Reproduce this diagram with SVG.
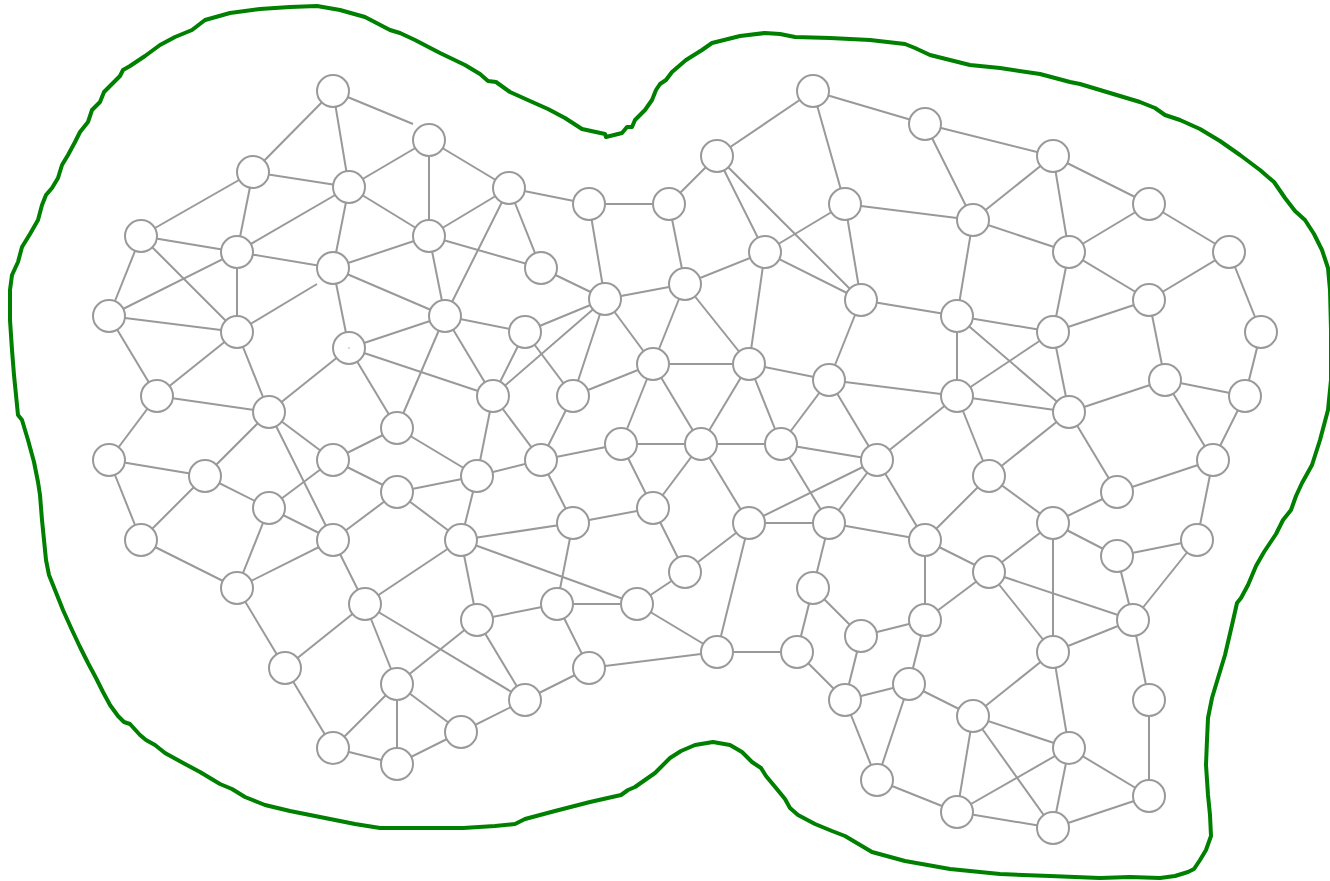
<svg xmlns="http://www.w3.org/2000/svg" width="1330" height="881" viewBox="0 0 1330 881">
<style>
.e line{stroke:#999;stroke-width:2;fill:none}
circle.n{fill:#fff;stroke:#999;stroke-width:2}
.b{fill:none;stroke:#008000;stroke-width:4;stroke-linejoin:round;stroke-linecap:round}
</style>
<rect width="1330" height="881" fill="#fff"/>
<path class="b" d="M10,290 L12,275 L18,262 L22,247 L30,234 L38,220 L42,205 L46,195 L52,188 L58,178 L62,165 L68,155 L75,142 L80,132 L88,122 L92,110 L100,102 L104,92 L112,84 L120,76 L123,70 L130,66 L145,56 L160,45 L175,37 L192,30 L205,20 L230,13 L260,9 L290,7 L317,6 L340,10 L365,17 L390,30 L400,33 L415,40 L440,53 L465,65 L480,74 L488,81 L496,82 L510,92 L530,101 L548,109 L565,118 L582,129 L605,134 L606,137 L622,133 L627,127 L632,127 L635,120 L645,110 L652,100 L656,90 L660,84 L666,80 L672,72 L686,60 L702,50 L712,43 L740,36 L765,33 L780,34 L795,37 L830,38 L870,40 L905,44 L915,48 L930,55 L950,60 L970,65 L1000,68 L1040,74 L1070,82 L1080,84 L1100,90 L1120,96 L1140,102 L1155,108 L1165,115 L1180,120 L1200,129 L1220,141 L1240,155 L1260,170 L1274,182 L1285,198 L1295,211 L1305,220 L1314,234 L1322,250 L1328,268 L1330,290 L1331,330 L1331,380 L1328,410 L1320,440 L1312,465 L1302,483 L1296,496 L1291,510 L1283,520 L1276,534 L1264,552 L1256,566 L1248,585 L1241,598 L1237,603 L1232,625 L1225,655 L1218,678 L1212,698 L1208,718 L1207,740 L1206,765 L1208,795 L1210,815 L1211,836 L1206,850 L1200,860 L1194,869 L1188,872 L1175,876 L1160,878 L1130,877 L1100,878 L1050,876 L1000,874 L950,869 L905,861 L872,852 L845,836 L832,831 L815,824 L798,815 L790,808 L785,799 L776,788 L766,776 L761,768 L752,762 L742,752 L730,745 L713,742 L695,745 L681,751 L670,758 L660,768 L655,773 L645,780 L635,787 L628,790 L621,795 L590,802 L555,811 L525,819 L515,824 L495,826 L463,828 L420,828 L380,828 L355,824 L320,817 L290,811 L265,805 L245,797 L232,789 L220,784 L200,772 L185,764 L165,753 L155,745 L146,740 L140,735 L130,724 L124,722 L118,716 L110,705 L103,692 L96,678 L88,663 L80,647 L72,630 L63,610 L55,590 L49,575 L46,560 L44,540 L42,520 L40,495 L38,482 L34,462 L28,440 L22,420 L18,415 L16,395 L14,375 L12,350 L10,320 Z"/>
<g class="e" id="connectors">
<line x1="333" y1="91" x2="253" y2="172"/><line x1="333" y1="91" x2="349" y2="187"/><line x1="333" y1="91" x2="413" y2="124"/>
<line x1="429" y1="140" x2="349" y2="187"/><line x1="429" y1="140" x2="429" y2="236"/><line x1="429" y1="140" x2="509" y2="188"/>
<line x1="253" y1="172" x2="349" y2="187"/><line x1="253" y1="172" x2="141" y2="236"/><line x1="253" y1="172" x2="237" y2="252"/>
<line x1="349" y1="187" x2="237" y2="252"/><line x1="349" y1="187" x2="333" y2="268"/><line x1="349" y1="187" x2="429" y2="236"/>
<line x1="509" y1="188" x2="429" y2="236"/><line x1="509" y1="188" x2="589" y2="204"/><line x1="509" y1="188" x2="541" y2="268"/><line x1="509" y1="188" x2="445" y2="316"/>
<line x1="141" y1="236" x2="237" y2="252"/><line x1="141" y1="236" x2="109" y2="316"/><line x1="141" y1="236" x2="237" y2="332"/>
<line x1="237" y1="252" x2="109" y2="316"/><line x1="237" y1="252" x2="333" y2="268"/><line x1="237" y1="252" x2="237" y2="332"/>
<line x1="429" y1="236" x2="333" y2="268"/><line x1="429" y1="236" x2="541" y2="268"/><line x1="429" y1="236" x2="445" y2="316"/>
<line x1="333" y1="268" x2="445" y2="316"/><line x1="333" y1="268" x2="349" y2="348"/>
<line x1="541" y1="268" x2="605" y2="299"/>
<line x1="589" y1="204" x2="669" y2="204"/><line x1="589" y1="204" x2="605" y2="299"/>
<line x1="669" y1="204" x2="685" y2="284"/><line x1="669" y1="204" x2="717" y2="156"/>
<line x1="109" y1="316" x2="237" y2="332"/><line x1="109" y1="316" x2="157" y2="396"/>
<line x1="237" y1="332" x2="157" y2="396"/><line x1="237" y1="332" x2="269" y2="412"/><line x1="237" y1="332" x2="317" y2="284"/>
<line x1="445" y1="316" x2="349" y2="348"/><line x1="445" y1="316" x2="525" y2="332"/><line x1="445" y1="316" x2="397" y2="428"/><line x1="445" y1="316" x2="493" y2="396"/>
<line x1="349" y1="348" x2="493" y2="396"/><line x1="349" y1="348" x2="397" y2="428"/><line x1="349" y1="348" x2="269" y2="412"/>
<line x1="525" y1="332" x2="605" y2="299"/><line x1="525" y1="332" x2="493" y2="396"/><line x1="525" y1="332" x2="573" y2="396"/>
<line x1="605" y1="299" x2="685" y2="284"/><line x1="605" y1="299" x2="493" y2="396"/><line x1="605" y1="299" x2="573" y2="396"/><line x1="605" y1="299" x2="653" y2="364"/>
<line x1="685" y1="284" x2="765" y2="252"/><line x1="685" y1="284" x2="653" y2="364"/><line x1="685" y1="284" x2="749" y2="364"/>
<line x1="157" y1="396" x2="269" y2="412"/><line x1="157" y1="396" x2="109" y2="460"/>
<line x1="269" y1="412" x2="205" y2="476"/><line x1="269" y1="412" x2="333" y2="460"/><line x1="269" y1="412" x2="333" y2="540"/>
<line x1="397" y1="428" x2="333" y2="460"/><line x1="397" y1="428" x2="477" y2="476"/>
<line x1="493" y1="396" x2="477" y2="476"/><line x1="493" y1="396" x2="541" y2="460"/>
<line x1="573" y1="396" x2="653" y2="364"/><line x1="573" y1="396" x2="541" y2="460"/>
<line x1="653" y1="364" x2="749" y2="364"/><line x1="653" y1="364" x2="621" y2="444"/><line x1="653" y1="364" x2="701" y2="444"/>
<line x1="109" y1="460" x2="205" y2="476"/><line x1="109" y1="460" x2="141" y2="540"/>
<line x1="205" y1="476" x2="141" y2="540"/><line x1="205" y1="476" x2="269" y2="508"/>
<line x1="333" y1="460" x2="269" y2="508"/><line x1="333" y1="460" x2="397" y2="492"/>
<line x1="477" y1="476" x2="541" y2="460"/><line x1="477" y1="476" x2="397" y2="492"/><line x1="477" y1="476" x2="461" y2="540"/>
<line x1="541" y1="460" x2="621" y2="444"/><line x1="541" y1="460" x2="573" y2="523"/>
<line x1="621" y1="444" x2="701" y2="444"/><line x1="621" y1="444" x2="653" y2="508"/>
<line x1="701" y1="444" x2="653" y2="508"/><line x1="701" y1="444" x2="749" y2="364"/><line x1="701" y1="444" x2="781" y2="444"/><line x1="701" y1="444" x2="749" y2="523"/>
<line x1="269" y1="508" x2="333" y2="540"/><line x1="269" y1="508" x2="237" y2="588"/>
<line x1="397" y1="492" x2="333" y2="540"/><line x1="397" y1="492" x2="461" y2="540"/>
<line x1="141" y1="540" x2="237" y2="588"/>
<line x1="333" y1="540" x2="237" y2="588"/><line x1="333" y1="540" x2="365" y2="604"/>
<line x1="461" y1="540" x2="573" y2="523"/><line x1="461" y1="540" x2="365" y2="604"/><line x1="461" y1="540" x2="477" y2="620"/><line x1="461" y1="540" x2="637" y2="604"/>
<line x1="573" y1="523" x2="653" y2="508"/><line x1="573" y1="523" x2="557" y2="604"/>
<line x1="653" y1="508" x2="685" y2="572"/>
<line x1="237" y1="588" x2="285" y2="668"/>
<line x1="365" y1="604" x2="285" y2="668"/><line x1="365" y1="604" x2="397" y2="684"/><line x1="365" y1="604" x2="525" y2="700"/>
<line x1="477" y1="620" x2="557" y2="604"/><line x1="477" y1="620" x2="397" y2="684"/><line x1="477" y1="620" x2="525" y2="700"/>
<line x1="557" y1="604" x2="637" y2="604"/><line x1="557" y1="604" x2="589" y2="668"/>
<line x1="637" y1="604" x2="685" y2="572"/><line x1="637" y1="604" x2="717" y2="652"/>
<line x1="685" y1="572" x2="749" y2="523"/>
<line x1="285" y1="668" x2="333" y2="748"/>
<line x1="397" y1="684" x2="333" y2="748"/><line x1="397" y1="684" x2="397" y2="764"/><line x1="397" y1="684" x2="461" y2="732"/>
<line x1="525" y1="700" x2="589" y2="668"/><line x1="525" y1="700" x2="461" y2="732"/>
<line x1="589" y1="668" x2="717" y2="652"/>
<line x1="717" y1="652" x2="749" y2="523"/><line x1="717" y1="652" x2="797" y2="652"/>
<line x1="333" y1="748" x2="397" y2="764"/>
<line x1="397" y1="764" x2="461" y2="732"/>
<line x1="813" y1="91" x2="717" y2="156"/><line x1="813" y1="91" x2="925" y2="124"/><line x1="813" y1="91" x2="845" y2="204"/>
<line x1="925" y1="124" x2="1053" y2="156"/><line x1="925" y1="124" x2="973" y2="220"/>
<line x1="717" y1="156" x2="765" y2="252"/><line x1="717" y1="156" x2="861" y2="300"/>
<line x1="1053" y1="156" x2="973" y2="220"/><line x1="1053" y1="156" x2="1149" y2="204"/><line x1="1053" y1="156" x2="1069" y2="252"/>
<line x1="845" y1="204" x2="765" y2="252"/><line x1="845" y1="204" x2="973" y2="220"/><line x1="845" y1="204" x2="861" y2="300"/>
<line x1="973" y1="220" x2="957" y2="316"/><line x1="973" y1="220" x2="1069" y2="252"/>
<line x1="1149" y1="204" x2="1069" y2="252"/><line x1="1149" y1="204" x2="1229" y2="252"/>
<line x1="765" y1="252" x2="861" y2="300"/><line x1="765" y1="252" x2="749" y2="364"/>
<line x1="1069" y1="252" x2="1149" y2="300"/><line x1="1069" y1="252" x2="1053" y2="332"/>
<line x1="1229" y1="252" x2="1149" y2="300"/><line x1="1229" y1="252" x2="1261" y2="332"/>
<line x1="861" y1="300" x2="957" y2="316"/><line x1="861" y1="300" x2="829" y2="380"/>
<line x1="957" y1="316" x2="957" y2="396"/><line x1="957" y1="316" x2="1069" y2="412"/><line x1="957" y1="316" x2="1053" y2="332"/>
<line x1="1149" y1="300" x2="1053" y2="332"/><line x1="1149" y1="300" x2="1165" y2="380"/>
<line x1="1053" y1="332" x2="957" y2="396"/><line x1="1053" y1="332" x2="1069" y2="412"/>
<line x1="1261" y1="332" x2="1245" y2="396"/>
<line x1="749" y1="364" x2="829" y2="380"/><line x1="749" y1="364" x2="781" y2="444"/>
<line x1="829" y1="380" x2="957" y2="396"/><line x1="829" y1="380" x2="781" y2="444"/><line x1="829" y1="380" x2="877" y2="460"/>
<line x1="957" y1="396" x2="877" y2="460"/><line x1="957" y1="396" x2="989" y2="476"/><line x1="957" y1="396" x2="1069" y2="412"/>
<line x1="1165" y1="380" x2="1069" y2="412"/><line x1="1165" y1="380" x2="1245" y2="396"/><line x1="1165" y1="380" x2="1213" y2="460"/>
<line x1="1069" y1="412" x2="989" y2="476"/><line x1="1069" y1="412" x2="1117" y2="492"/>
<line x1="1245" y1="396" x2="1213" y2="460"/>
<line x1="781" y1="444" x2="877" y2="460"/><line x1="781" y1="444" x2="829" y2="523"/>
<line x1="877" y1="460" x2="749" y2="523"/><line x1="877" y1="460" x2="829" y2="523"/><line x1="877" y1="460" x2="925" y2="540"/>
<line x1="989" y1="476" x2="925" y2="540"/><line x1="989" y1="476" x2="1053" y2="523"/>
<line x1="1213" y1="460" x2="1117" y2="492"/><line x1="1213" y1="460" x2="1197" y2="540"/>
<line x1="1117" y1="492" x2="1053" y2="523"/>
<line x1="749" y1="523" x2="829" y2="523"/>
<line x1="829" y1="523" x2="925" y2="540"/><line x1="829" y1="523" x2="813" y2="588"/>
<line x1="925" y1="540" x2="989" y2="572"/><line x1="925" y1="540" x2="925" y2="620"/>
<line x1="1053" y1="523" x2="1117" y2="556"/><line x1="1053" y1="523" x2="1053" y2="652"/><line x1="1053" y1="523" x2="989" y2="572"/>
<line x1="1117" y1="556" x2="1197" y2="540"/><line x1="1117" y1="556" x2="1133" y2="620"/>
<line x1="1197" y1="540" x2="1133" y2="620"/>
<line x1="989" y1="572" x2="925" y2="620"/><line x1="989" y1="572" x2="1133" y2="620"/><line x1="989" y1="572" x2="1053" y2="652"/>
<line x1="813" y1="588" x2="861" y2="636"/><line x1="813" y1="588" x2="797" y2="652"/>
<line x1="861" y1="636" x2="925" y2="620"/><line x1="861" y1="636" x2="845" y2="700"/>
<line x1="925" y1="620" x2="909" y2="684"/>
<line x1="1133" y1="620" x2="1053" y2="652"/><line x1="1133" y1="620" x2="1149" y2="700"/>
<line x1="797" y1="652" x2="845" y2="700"/>
<line x1="909" y1="684" x2="845" y2="700"/><line x1="909" y1="684" x2="973" y2="716"/><line x1="909" y1="684" x2="877" y2="780"/>
<line x1="1053" y1="652" x2="973" y2="716"/><line x1="1053" y1="652" x2="1069" y2="748"/>
<line x1="845" y1="700" x2="877" y2="780"/>
<line x1="973" y1="716" x2="1069" y2="748"/><line x1="973" y1="716" x2="957" y2="812"/><line x1="973" y1="716" x2="1053" y2="828"/>
<line x1="1149" y1="700" x2="1149" y2="796"/>
<line x1="1069" y1="748" x2="957" y2="812"/><line x1="1069" y1="748" x2="1053" y2="828"/><line x1="1069" y1="748" x2="1149" y2="796"/>
<line x1="877" y1="780" x2="957" y2="812"/>
<line x1="957" y1="812" x2="1053" y2="828"/>
<line x1="1053" y1="828" x2="1149" y2="796"/>
</g>
<g id="n1"><circle class="n" cx="333" cy="91" r="16"/></g>
<g id="n2"><circle class="n" cx="429" cy="140" r="16"/></g>
<g id="n3"><circle class="n" cx="253" cy="172" r="16"/></g>
<g id="n4"><circle class="n" cx="349" cy="187" r="16"/></g>
<g id="n5"><circle class="n" cx="509" cy="188" r="16"/></g>
<g id="n6"><circle class="n" cx="141" cy="236" r="16"/></g>
<g id="n7"><circle class="n" cx="237" cy="252" r="16"/></g>
<g id="n8"><circle class="n" cx="429" cy="236" r="16"/></g>
<g id="n9"><circle class="n" cx="333" cy="268" r="16"/></g>
<g id="n10"><circle class="n" cx="541" cy="268" r="16"/></g>
<g id="n11"><circle class="n" cx="589" cy="204" r="16"/></g>
<g id="n12"><circle class="n" cx="669" cy="204" r="16"/></g>
<g id="n13"><circle class="n" cx="109" cy="316" r="16"/></g>
<g id="n14"><circle class="n" cx="237" cy="332" r="16"/></g>
<g id="n15"><circle class="n" cx="445" cy="316" r="16"/></g>
<g id="n16"><circle class="n" cx="349" cy="348" r="16"/><circle cx="349" cy="348" r="0.7" fill="#999"/></g>
<g id="n17"><circle class="n" cx="525" cy="332" r="16"/></g>
<g id="n18"><circle class="n" cx="605" cy="299" r="16"/></g>
<g id="n19"><circle class="n" cx="685" cy="284" r="16"/></g>
<g id="n20"><circle class="n" cx="157" cy="396" r="16"/></g>
<g id="n21"><circle class="n" cx="269" cy="412" r="16"/></g>
<g id="n22"><circle class="n" cx="397" cy="428" r="16"/></g>
<g id="n23"><circle class="n" cx="493" cy="396" r="16"/></g>
<g id="n24"><circle class="n" cx="573" cy="396" r="16"/></g>
<g id="n25"><circle class="n" cx="653" cy="364" r="16"/></g>
<g id="n26"><circle class="n" cx="109" cy="460" r="16"/></g>
<g id="n27"><circle class="n" cx="205" cy="476" r="16"/></g>
<g id="n28"><circle class="n" cx="333" cy="460" r="16"/></g>
<g id="n29"><circle class="n" cx="477" cy="476" r="16"/></g>
<g id="n30"><circle class="n" cx="541" cy="460" r="16"/></g>
<g id="n31"><circle class="n" cx="621" cy="444" r="16"/></g>
<g id="n32"><circle class="n" cx="701" cy="444" r="16"/></g>
<g id="n33"><circle class="n" cx="269" cy="508" r="16"/></g>
<g id="n34"><circle class="n" cx="397" cy="492" r="16"/></g>
<g id="n35"><circle class="n" cx="141" cy="540" r="16"/></g>
<g id="n36"><circle class="n" cx="333" cy="540" r="16"/></g>
<g id="n37"><circle class="n" cx="461" cy="540" r="16"/></g>
<g id="n38"><circle class="n" cx="573" cy="523" r="16"/></g>
<g id="n39"><circle class="n" cx="653" cy="508" r="16"/></g>
<g id="n40"><circle class="n" cx="237" cy="588" r="16"/></g>
<g id="n41"><circle class="n" cx="365" cy="604" r="16"/></g>
<g id="n42"><circle class="n" cx="477" cy="620" r="16"/></g>
<g id="n43"><circle class="n" cx="557" cy="604" r="16"/></g>
<g id="n44"><circle class="n" cx="637" cy="604" r="16"/></g>
<g id="n45"><circle class="n" cx="685" cy="572" r="16"/></g>
<g id="n46"><circle class="n" cx="285" cy="668" r="16"/></g>
<g id="n47"><circle class="n" cx="397" cy="684" r="16"/></g>
<g id="n48"><circle class="n" cx="525" cy="700" r="16"/></g>
<g id="n49"><circle class="n" cx="589" cy="668" r="16"/></g>
<g id="n50"><circle class="n" cx="717" cy="652" r="16"/></g>
<g id="n51"><circle class="n" cx="333" cy="748" r="16"/></g>
<g id="n52"><circle class="n" cx="397" cy="764" r="16"/></g>
<g id="n53"><circle class="n" cx="461" cy="732" r="16"/></g>
<g id="n54"><circle class="n" cx="813" cy="91" r="16"/></g>
<g id="n55"><circle class="n" cx="925" cy="124" r="16"/></g>
<g id="n56"><circle class="n" cx="717" cy="156" r="16"/></g>
<g id="n57"><circle class="n" cx="1053" cy="156" r="16"/></g>
<g id="n58"><circle class="n" cx="845" cy="204" r="16"/></g>
<g id="n59"><circle class="n" cx="973" cy="220" r="16"/></g>
<g id="n60"><circle class="n" cx="1149" cy="204" r="16"/></g>
<g id="n61"><circle class="n" cx="765" cy="252" r="16"/></g>
<g id="n62"><circle class="n" cx="1069" cy="252" r="16"/></g>
<g id="n63"><circle class="n" cx="1229" cy="252" r="16"/></g>
<g id="n64"><circle class="n" cx="861" cy="300" r="16"/></g>
<g id="n65"><circle class="n" cx="957" cy="316" r="16"/></g>
<g id="n66"><circle class="n" cx="1149" cy="300" r="16"/></g>
<g id="n67"><circle class="n" cx="1053" cy="332" r="16"/></g>
<g id="n68"><circle class="n" cx="1261" cy="332" r="16"/></g>
<g id="n69"><circle class="n" cx="749" cy="364" r="16"/></g>
<g id="n70"><circle class="n" cx="829" cy="380" r="16"/></g>
<g id="n71"><circle class="n" cx="957" cy="396" r="16"/></g>
<g id="n72"><circle class="n" cx="1165" cy="380" r="16"/></g>
<g id="n73"><circle class="n" cx="1069" cy="412" r="16"/></g>
<g id="n74"><circle class="n" cx="1245" cy="396" r="16"/></g>
<g id="n75"><circle class="n" cx="781" cy="444" r="16"/></g>
<g id="n76"><circle class="n" cx="877" cy="460" r="16"/></g>
<g id="n77"><circle class="n" cx="989" cy="476" r="16"/></g>
<g id="n78"><circle class="n" cx="1213" cy="460" r="16"/></g>
<g id="n79"><circle class="n" cx="1117" cy="492" r="16"/></g>
<g id="n80"><circle class="n" cx="749" cy="523" r="16"/></g>
<g id="n81"><circle class="n" cx="829" cy="523" r="16"/></g>
<g id="n82"><circle class="n" cx="925" cy="540" r="16"/></g>
<g id="n83"><circle class="n" cx="1053" cy="523" r="16"/></g>
<g id="n84"><circle class="n" cx="1117" cy="556" r="16"/></g>
<g id="n85"><circle class="n" cx="1197" cy="540" r="16"/></g>
<g id="n86"><circle class="n" cx="989" cy="572" r="16"/></g>
<g id="n87"><circle class="n" cx="813" cy="588" r="16"/></g>
<g id="n88"><circle class="n" cx="861" cy="636" r="16"/></g>
<g id="n89"><circle class="n" cx="925" cy="620" r="16"/></g>
<g id="n90"><circle class="n" cx="1133" cy="620" r="16"/></g>
<g id="n91"><circle class="n" cx="797" cy="652" r="16"/></g>
<g id="n92"><circle class="n" cx="1053" cy="652" r="16"/></g>
<g id="n93"><circle class="n" cx="909" cy="684" r="16"/></g>
<g id="n94"><circle class="n" cx="845" cy="700" r="16"/></g>
<g id="n95"><circle class="n" cx="973" cy="716" r="16"/></g>
<g id="n96"><circle class="n" cx="1149" cy="700" r="16"/></g>
<g id="n97"><circle class="n" cx="1069" cy="748" r="16"/></g>
<g id="n98"><circle class="n" cx="877" cy="780" r="16"/></g>
<g id="n99"><circle class="n" cx="957" cy="812" r="16"/></g>
<g id="n100"><circle class="n" cx="1149" cy="796" r="16"/></g>
<g id="n101"><circle class="n" cx="1053" cy="828" r="16"/></g>
</svg>
